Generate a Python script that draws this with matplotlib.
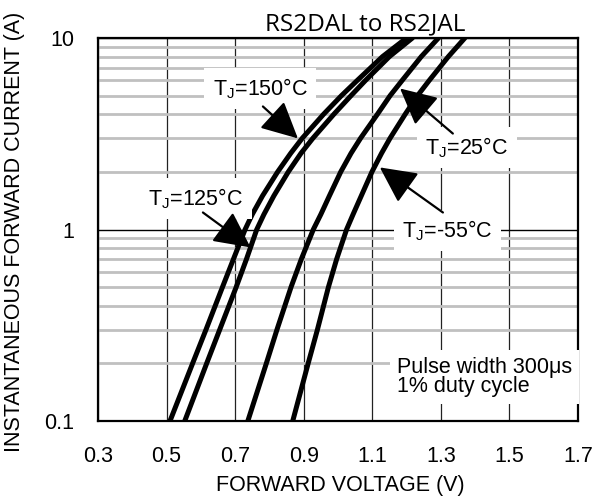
import matplotlib
matplotlib.use("Agg")
import matplotlib.pyplot as plt
from matplotlib.ticker import FixedLocator, NullFormatter

plt.rcParams['font.family'] = ['Liberation Sans', 'DejaVu Sans']
plt.rcParams['mathtext.default'] = 'regular'

# ---- data ----
current_a = [0.1, 0.2, 0.3, 0.5, 0.7, 1.0, 1.2, 1.5, 2.0, 2.5, 3.0, 4.0, 5.0, 6.0, 8.0, 10.0]
v_150c = [0.51, 0.576, 0.615, 0.663, 0.695, 0.729, 0.75, 0.78, 0.824, 0.862, 0.896,
          0.958, 1.01, 1.056, 1.13, 1.20]
v_125c = [0.553, 0.617, 0.655, 0.703, 0.733, 0.763, 0.784, 0.813, 0.855, 0.892, 0.927,
          0.988, 1.038, 1.08, 1.15, 1.217]
v_25c = [0.737, 0.791, 0.822, 0.863, 0.893, 0.928, 0.95, 0.975, 1.008, 1.038, 1.066,
         1.115, 1.152, 1.187, 1.243, 1.293]
v_m55c = [0.868, 0.913, 0.94, 0.972, 0.996, 1.025, 1.044, 1.068, 1.099, 1.127, 1.152,
          1.196, 1.232, 1.266, 1.322, 1.37]

x_ticks = [0.3, 0.5, 0.7, 0.9, 1.1, 1.3, 1.5, 1.7]
x_tick_labels = ["0.3", "0.5", "0.7", "0.9", "1.1", "1.3", "1.5", "1.7"]
y_ticks = [0.1, 1, 10]
y_tick_labels = ["0.1", "1", "10"]
y_minor = [m * d for d in (0.1, 1) for m in range(2, 10)]

title = "RS2DAL to RS2JAL"
x_label = "FORWARD VOLTAGE (V)"
y_label = "INSTANTANEOUS FORWARD CURRENT (A)"

fig = plt.figure(figsize=(5.95, 4.97), dpi=100)
ax = fig.add_axes([98 / 595, 1 - 421 / 497, 480 / 595, 383 / 497])

ax.set_yscale('log')
ax.set_xlim(0.3, 1.7)
ax.set_ylim(0.1, 10)

ax.set_xticks(x_ticks)
ax.set_xticklabels(x_tick_labels)
ax.set_yticks(y_ticks)
ax.set_yticklabels(y_tick_labels)
ax.yaxis.set_minor_locator(FixedLocator(y_minor))
ax.yaxis.set_minor_formatter(NullFormatter())
ax.xaxis.set_minor_locator(FixedLocator([]))
ax.tick_params(which='both', length=0, labelsize=15.5)
ax.tick_params(axis='x', pad=18)
ax.tick_params(axis='y', pad=17)

ax.set_axisbelow(True)
ax.grid(axis='y', which='minor', color='#c0c0c0', lw=2.0)
ax.grid(axis='y', which='major', color='black', lw=1.0)
ax.grid(axis='x', which='major', color='#222222', lw=0.9)

for s in ax.spines.values():
    s.set_linewidth(1.6)
    s.set_color('black')

for v in (v_150c, v_125c, v_25c, v_m55c):
    ax.plot(v, current_a, color='black', lw=3.6, solid_capstyle='round',
            solid_joinstyle='round', zorder=3)

box = dict(facecolor='white', edgecolor='none', pad=6)
tkw = dict(fontsize=15.5, ha='left', va='center', bbox=box, zorder=4)
ax.text(0.635, 5.45, "T$_J$=150°C", **tkw)
ax.text(0.446, 1.45, "T$_J$=125°C", **tkw)
ax.text(1.254, 2.68, "T$_J$=25°C", **tkw)
ax.text(1.187, 0.988, "T$_J$=-55°C", **tkw)
ax.text(1.172, 0.170, "Pulse width 300μs\n1% duty cycle", fontsize=15.5,
        ha='left', va='center', linespacing=0.92,
        bbox=dict(facecolor='white', edgecolor='none', pad=5), zorder=4)

akw = dict(arrowstyle='-|>,head_length=0.9,head_width=0.45', color='black',
           lw=1.6, mutation_scale=25, shrinkA=0, shrinkB=0)
ax.annotate("", xy=(0.883, 2.99), xytext=(0.781, 4.39), arrowprops=akw, zorder=5)
ax.annotate("", xy=(0.745, 0.806), xytext=(0.606, 1.227), arrowprops=akw, zorder=5)
ax.annotate("", xy=(1.181, 5.45), xytext=(1.335, 3.17), arrowprops=akw, zorder=5)
ax.annotate("", xy=(1.122, 2.11), xytext=(1.306, 1.227), arrowprops=akw, zorder=5)

fig.text(365 / 595, 1 - 30 / 497, title, fontsize=17.5, family='Open Sans',
         ha='center', va='baseline')
fig.text(340 / 595, 1 - 485 / 497, x_label, fontsize=15.5, ha='center', va='center')
fig.text(15 / 595, 1 - 232 / 497, y_label, fontsize=15.5, ha='center', va='center',
         rotation=90)

fig.savefig("out.png", dpi=100)
